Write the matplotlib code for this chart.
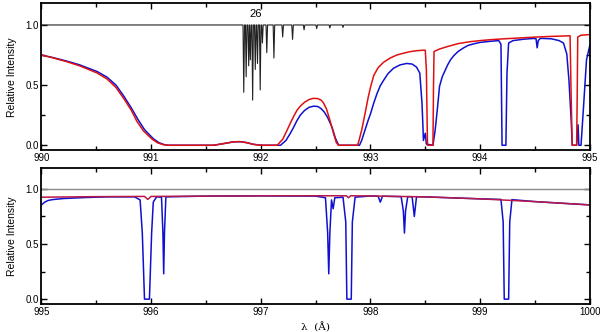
import numpy as np
import matplotlib
matplotlib.use("Agg")
import matplotlib.pyplot as plt
from matplotlib.ticker import MultipleLocator

plt.rcParams['font.family'] = ['Liberation Sans', 'DejaVu Sans']

# ---- top panel (990-995 A) ----
top_red_x = [990.00, 990.10, 990.23, 990.35, 990.51, 990.60, 990.68, 990.75, 990.82,
             990.87, 990.93, 991.01, 991.06, 991.11, 991.15, 991.57, 991.65, 991.75,
             991.81, 991.87, 991.93, 992.00, 992.15, 992.20, 992.24, 992.27, 992.30,
             992.33, 992.36, 992.40, 992.44, 992.48, 992.52, 992.55, 992.57, 992.60,
             992.63, 992.66, 992.69, 992.71, 992.88, 992.89, 992.92, 992.95, 992.98,
             993.00, 993.03, 993.07, 993.12, 993.18, 993.24, 993.30, 993.36, 993.42,
             993.48, 993.50, 993.51, 993.52, 993.57, 993.575, 993.58, 993.63, 993.70,
             993.80, 993.90, 994.00, 994.10, 994.20, 994.30, 994.40, 994.52, 994.65,
             994.75, 994.82, 994.83, 994.84, 994.88, 994.885, 994.89, 994.92, 995.00]
top_red_y = [0.750, 0.728, 0.695, 0.660, 0.600, 0.550, 0.480, 0.390, 0.290,
             0.200, 0.120, 0.050, 0.020, 0.005, 0.000, 0.000, 0.012, 0.028,
             0.030, 0.022, 0.008, 0.000, 0.000, 0.050, 0.125, 0.185, 0.240,
             0.290, 0.325, 0.358, 0.380, 0.390, 0.388, 0.375, 0.355, 0.300,
             0.210, 0.110, 0.020, 0.000, 0.000, 0.020, 0.125, 0.260, 0.400,
             0.480, 0.580, 0.645, 0.690, 0.725, 0.750, 0.765, 0.778, 0.786,
             0.790, 0.790, 0.625, 0.000, 0.000, 0.490, 0.780, 0.800, 0.820,
             0.845, 0.860, 0.870, 0.878, 0.884, 0.889, 0.894, 0.900, 0.905,
             0.908, 0.910, 0.400, 0.000, 0.000, 0.400, 0.900, 0.915, 0.920]

top_blue_x = [990.00, 990.10, 990.23, 990.35, 990.51, 990.60, 990.68, 990.75, 990.82,
              990.88, 990.94, 991.02, 991.07, 991.12, 991.16, 991.57, 991.65, 991.75,
              991.81, 991.87, 991.93, 992.00, 992.18, 992.23, 992.27, 992.30, 992.33,
              992.36, 992.40, 992.44, 992.48, 992.52, 992.55, 992.58, 992.61, 992.65,
              992.68, 992.71, 992.90, 992.92, 992.95, 992.98, 993.00, 993.03, 993.06,
              993.09, 993.12, 993.16, 993.21, 993.27, 993.33, 993.38, 993.42, 993.45,
              993.47, 993.48, 993.483, 993.50, 993.51, 993.57, 993.59, 993.61, 993.63,
              993.655, 993.68, 993.705, 993.73, 993.76, 993.80, 993.85, 993.89, 993.95,
              994.00, 994.10, 994.17, 994.19, 994.20, 994.235, 994.245, 994.26, 994.30,
              994.40, 994.49, 994.51, 994.52, 994.53, 994.55, 994.65, 994.72, 994.76,
              994.79, 994.81, 994.83, 994.84, 994.88, 994.893, 994.90, 994.92, 994.945,
              994.97, 995.00]
top_blue_y = [0.750, 0.730, 0.700, 0.668, 0.612, 0.565, 0.500, 0.410, 0.310,
              0.215, 0.130, 0.055, 0.022, 0.005, 0.000, 0.000, 0.012, 0.028,
              0.030, 0.022, 0.008, 0.000, 0.000, 0.040, 0.100, 0.150, 0.205,
              0.250, 0.290, 0.315, 0.325, 0.322, 0.305, 0.275, 0.230, 0.150,
              0.060, 0.000, 0.000, 0.040, 0.125, 0.210, 0.260, 0.350, 0.430,
              0.495, 0.540, 0.595, 0.640, 0.668, 0.680, 0.675, 0.650, 0.600,
              0.350, 0.125, 0.040, 0.100, 0.010, 0.000, 0.125, 0.300, 0.490,
              0.570, 0.620, 0.670, 0.710, 0.745, 0.780, 0.810, 0.830, 0.845,
              0.855, 0.865, 0.870, 0.840, 0.000, 0.000, 0.600, 0.850, 0.870,
              0.882, 0.888, 0.885, 0.810, 0.870, 0.889, 0.885, 0.870, 0.850,
              0.760, 0.540, 0.210, 0.000, 0.000, 0.170, 0.000, 0.000, 0.350,
              0.710, 0.830]

# black model spectrum: line centres and residual intensities
line26_center = [991.845, 991.867, 991.89, 991.905, 991.926, 991.95, 991.97, 991.995,
                 992.015, 992.055, 992.12, 992.20, 992.29, 992.395, 992.51, 992.63, 992.75]
line26_depth = [0.44, 0.57, 0.66, 0.71, 0.375, 0.63, 0.68, 0.46,
                0.85, 0.77, 0.725, 0.90, 0.88, 0.96, 0.97, 0.975, 0.98]

# ---- bottom panel (995-1000 A) ----
bot_red_x = [995.00, 995.50, 995.94, 995.97, 996.00, 996.50, 997.00, 997.50, 997.78,
             997.80, 997.82, 998.00, 998.50, 999.00, 999.50, 1000.00]
bot_red_y = [0.925, 0.930, 0.932, 0.905, 0.932, 0.935, 0.937, 0.938, 0.938,
             0.920, 0.938, 0.936, 0.928, 0.910, 0.885, 0.855]

bot_blue_x = [995.00, 995.03, 995.06, 995.10, 995.20, 995.40, 995.60, 995.85, 995.90,
              995.92, 995.94, 995.985, 996.005, 996.02, 996.05, 996.095, 996.108, 996.115,
              996.122, 996.135, 996.50, 997.00, 997.50, 997.59, 997.61, 997.62, 997.63,
              997.645, 997.66, 997.675, 997.75, 997.775, 997.785, 997.825, 997.835, 997.86,
              998.00, 998.07, 998.09, 998.11, 998.28, 998.30, 998.31, 998.32, 998.34,
              998.38, 998.40, 998.42, 998.50, 999.00, 999.19, 999.21, 999.22, 999.26,
              999.27, 999.29, 999.50, 1000.00]
bot_blue_y = [0.855, 0.880, 0.895, 0.903, 0.913, 0.922, 0.928, 0.928, 0.900,
              0.600, 0.000, 0.000, 0.600, 0.880, 0.928, 0.925, 0.600, 0.230,
              0.600, 0.928, 0.935, 0.937, 0.935, 0.920, 0.600, 0.230, 0.600,
              0.900, 0.820, 0.920, 0.925, 0.700, 0.000, 0.000, 0.700, 0.925,
              0.936, 0.934, 0.880, 0.934, 0.930, 0.800, 0.600, 0.800, 0.930,
              0.929, 0.750, 0.929, 0.928, 0.910, 0.905, 0.700, 0.000, 0.000,
              0.700, 0.903, 0.885, 0.855]

label_26 = "26"

# build polyline of black spectrum from the read line list
bx = [990.0]
by = [1.0]
for c, d in zip(line26_center, line26_depth):
    bx += [c - 0.007, c, c + 0.007]
    by += [1.0, d, 1.0]
bx.append(995.0)
by.append(1.0)

fig = plt.figure(figsize=(6.0, 3.32), dpi=100)
ax1 = fig.add_axes([0.069, 0.548, 0.914, 0.442])
ax2 = fig.add_axes([0.069, 0.084, 0.914, 0.410])

ax1.plot(bx, by, color='#222222', lw=0.8)
ax1.plot(top_blue_x, top_blue_y, color='#1010d0', lw=1.1)
ax1.plot(top_red_x, top_red_y, color='#e01010', lw=1.1)
ax1.text(991.95, 1.09, label_26, ha='center', va='center', fontsize=8)
ax1.set_xlim(990, 995)
ax1.set_ylim(-0.04, 1.18)

ax2.axhline(1.0, color='#8a8a8a', lw=1.0)
ax2.plot(bot_blue_x, bot_blue_y, color='#1010d0', lw=1.1)
ax2.plot(bot_red_x, bot_red_y, color='#b81848', lw=1.1)
ax2.set_xlim(995, 1000)
ax2.set_ylim(-0.045, 1.19)
ax2.set_xlabel(u"\u03bb  (\u00c5)", family='DejaVu Serif', fontsize=7.5, labelpad=4)

for ax in (ax1, ax2):
    ax.xaxis.set_major_locator(MultipleLocator(1))
    ax.xaxis.set_minor_locator(MultipleLocator(0.5))
    ax.yaxis.set_major_locator(MultipleLocator(0.5))
    ax.yaxis.set_minor_locator(MultipleLocator(0.25))
    ax.tick_params(which='both', direction='in', top=True, right=True,
                   labelsize=7, width=1.0, pad=2)
    ax.tick_params(which='major', length=4)
    ax.tick_params(which='minor', length=3)
    for s in ax.spines.values():
        s.set_linewidth(1.3)
    ax.set_ylabel("Relative Intensity", fontsize=7.5, labelpad=6)

fig.savefig("out.png", dpi=100)
